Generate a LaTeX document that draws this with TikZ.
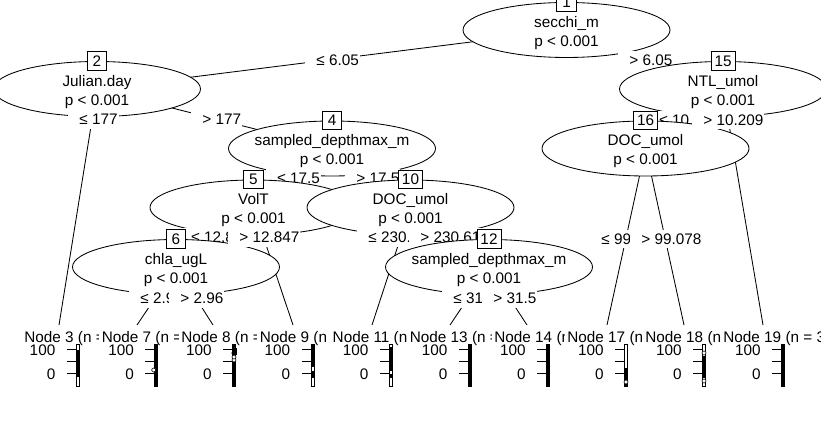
\documentclass[tikz,border=0pt]{standalone}
\usepackage{fontspec}
\setmainfont{Liberation Sans}
\usetikzlibrary{shapes.geometric}
\newcommand\inode[6]{%
  \node[innernode] (#1) at (#2,#3) {};
  \node[itext] (#1a) at (#2,#3-2.5) {#5};
  \node[itext] (#1b) at (#2,#3+16.5) {#6};
  \node[numbox] (#1n) at (#1.north) {#4};}
\newcommand\elab[4]{%
  \node[elab] (#1) at (#2-11,#3) {\hspace*{11pt}#4\hspace*{1pt}};}
\newcommand\tpanel[5]{%
  \begin{scope}\clip (#3-3,325) rectangle (#4,348);
  \node[ttl] (#1) at (#3,342.5) {#5};\end{scope}
  \draw (#2-10,349) -- (#2,349) (#2-10,361.3) -- (#2,361.3) (#2-10,373.7) -- (#2,373.7);
  \node[tk] (#1hi) at (#2-21,355) {100};
  \node[tk] (#1lo) at (#2-21,379.5) {0};}
\newcommand\frm[1]{\draw[fill=white] (#1-0.5,344) rectangle (#1+2.5,386);}
\newcommand\blk[3]{\fill (#1-0.5,#2) rectangle (#1+2.5,#3);}
\newcommand\fullblk[1]{\draw[fill=black] (#1-0.5,344) rectangle (#1+2.5,386);}
\newcommand\outl[3]{\draw[fill=white,line width=0.6pt] (#1,#2) circle[radius=#3];}
\begin{document}
\begin{tikzpicture}[x=1pt,y=-1pt,line width=0.85pt,
  every node/.style={font=\fontsize{15.3}{18}\selectfont},
  innernode/.style={draw,fill=white,ellipse,minimum width=207pt,minimum height=55pt,inner sep=0pt},
  numbox/.style={draw,fill=white,minimum width=19.5pt,minimum height=18.5pt,inner xsep=3.5pt,inner ysep=0pt},
  itext/.style={inner sep=0pt,anchor=base},
  elab/.style={fill=white,inner xsep=0pt,inner ysep=2.7pt,text height=12pt,text depth=1pt,anchor=base west},
  ttl/.style={inner sep=0pt,anchor=base west},
  tk/.style={inner sep=0pt,anchor=base east}]
\useasboundingbox (0,0) rectangle (821,435);
\clip (0,0) rectangle (821,435);
\fill[white] (0,0) rectangle (821,435);
% centres
\coordinate (c1) at (566.5,30);
\coordinate (c2) at (97,89);
\coordinate (c15) at (723,89);
\coordinate (c4) at (332,148.5);
\coordinate (c16) at (645.5,148.5);
\coordinate (c5) at (253.5,207.5);
\coordinate (c10) at (410.5,207.5);
\coordinate (c6) at (176,267);
\coordinate (c12) at (489,267);
\coordinate (t3) at (59,325);
\coordinate (t7) at (137,325);
\coordinate (t8) at (213,325);
\coordinate (t9) at (293,325);
\coordinate (t11) at (372,325);
\coordinate (t13) at (450,325);
\coordinate (t14) at (527,325);
\coordinate (t17) at (607,325);
\coordinate (t18) at (684,325);
\coordinate (t19) at (763,325);
% node 1
\draw (c1) -- (c2) (c1) -- (c15);
\inode{n1}{566.5}{30}{1}{secchi\_m}{p < 0.001}
\elab{l12}{316}{65.5}{≤ 6.05}
% node 2
\draw (c2) -- (t3) (c2) -- (c4);
\inode{n2}{97}{89}{2}{Julian.day}{p < 0.001}
\elab{l23}{79}{125}{≤ 177}
\tpanel{h3}{76.7}{24}{98}{Node 3 (n =}
\frm{76.7}\blk{76.7}{350}{377}
\elab{l24}{202}{125}{> 177}
% node 4
\draw (c4) -- (c5) (c4) -- (c10);
\inode{n4}{332}{148.5}{4}{sampled\_depthmax\_m}{p < 0.001}
\elab{l45}{277}{183.5}{≤ 17.5}
% node 5
\draw (c5) -- (c6) (c5) -- (t9);
\inode{n5}{253.5}{207.5}{5}{VolT}{p < 0.001}
\elab{l56}{191}{243}{≤ 12.847}
% node 6
\draw (c6) -- (t7) (c6) -- (t8);
\inode{n6}{176}{267}{6}{chla\_ugL}{p < 0.001}
\elab{l67}{140}{304}{≤ 2.96}
\tpanel{h7}{155.3}{101.5}{178}{Node 7 (n =}
\fullblk{155.3}\outl{153.7}{370}{2}
\elab{l68}{180}{304}{> 2.96}
\tpanel{h8}{233}{181}{256.5}{Node 8 (n =}
\fullblk{233}
\outl{234}{360}{2}\outl{234}{357}{2}\outl{234}{353}{2.2}
\fill (231.5,348) rectangle (236.5,355);
\elab{l59}{239}{243}{> 12.847}
\tpanel{h9}{311.5}{259.5}{329}{Node 9 (n =}
\frm{311.5}\blk{311.5}{345}{367}\blk{311.5}{371}{378}
\elab{l410}{356}{183.5}{> 17.5}
% node 10
\draw (c10) -- (t11) (c10) -- (c12);
\inode{n10}{410.5}{207.5}{10}{DOC\_umol}{p < 0.001}
\elab{l1011}{368}{243}{≤ 230.61}
\tpanel{h11}{389.8}{332.3}{408.5}{Node 11 (n =}
\frm{389.8}\blk{389.8}{347}{371}\blk{389.8}{374}{378}
\elab{l1012}{420}{243}{> 230.61}
% node 12
\draw (c12) -- (t13) (c12) -- (t14);
\inode{n12}{489}{267}{12}{sampled\_depthmax\_m}{p < 0.001}
\elab{l1213}{453}{304}{≤ 31.5}
\tpanel{h13}{468.8}{409.5}{491}{Node 13 (n =}
\fullblk{468.8}
\elab{l1214}{493}{304}{> 31.5}
\tpanel{h14}{547}{494}{564}{Node 14 (n =}
\fullblk{547}
% node 15
\elab{l115}{629}{65.5}{> 6.05}
\draw (c15) -- (c16) (c15) -- (t19);
\inode{n15}{723}{89}{15}{NTL\_umol}{p < 0.001}
\elab{l1516}{659}{125.5}{≤ 10.209}
% node 16
\draw (c16) -- (t17) (c16) -- (t18);
\inode{n16}{645.5}{148.5}{16}{DOC\_umol}{p < 0.001}
\elab{l1617}{601}{244.5}{≤ 99.078}
\tpanel{h17}{625}{567}{642.5}{Node 17 (n =}
\frm{625}\blk{625}{368}{386}\outl{626}{382}{2}
\elab{l1618}{641}{244.5}{> 99.078}
\tpanel{h18}{703}{645}{720.5}{Node 18 (n =}
\frm{703}\blk{703}{356}{378}\outl{704}{353}{2}\outl{704}{381}{2}
\elab{l1519}{703}{125.5}{> 10.209}
\tpanel{h19}{782}{723}{821}{Node 19 (n = 3}
\fullblk{782}
\end{tikzpicture}
\end{document}
